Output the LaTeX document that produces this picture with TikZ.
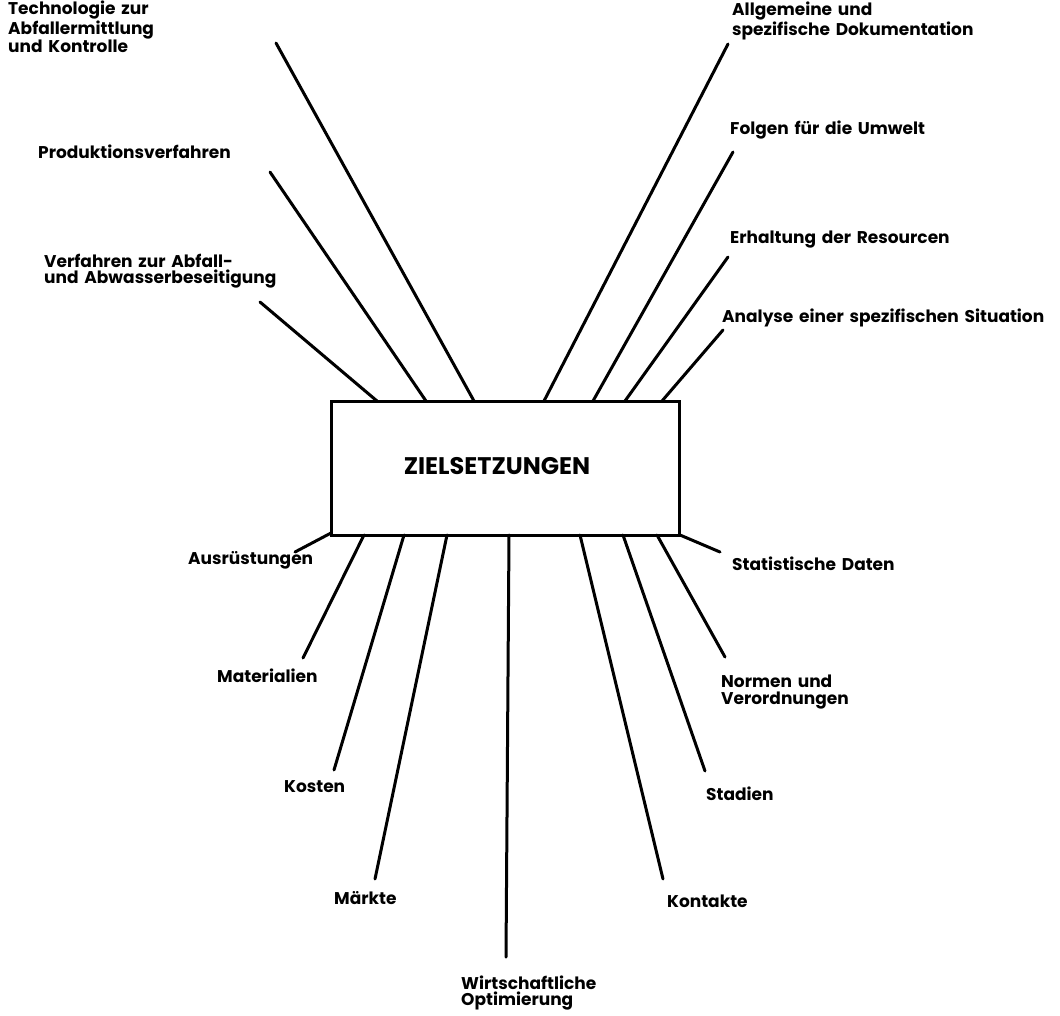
\documentclass[tikz,border=0pt]{standalone}
\usepackage{fontspec}
\setmainfont{Poppins}[WordSpace=1.6]
\begin{document}
\begin{tikzpicture}[x=1pt,y=-1pt,
  lbl/.style={anchor=west, inner sep=0pt, font=\bfseries\fontsize{17}{16.5}\selectfont, align=left},
  spoke/.style={line width=3pt, line cap=round}]
\useasboundingbox (0,0) rectangle (1060,1015);

% central box and its caption
\node[draw, line width=3pt, minimum width=348pt, minimum height=134pt, inner sep=0pt] (ziel) at (505.5,468) {};
\node[inner sep=0pt, font=\bfseries\fontsize{24}{26}\selectfont] (zieltxt) at (497,466) {ZIELSETZUNGEN};

% labels above the box
\node[lbl] (tech) at (8,27) {Technologie zur\\Abfallermittlung\\und Kontrolle};
\node[lbl] (prod) at (38,152) {Produktionsverfahren};
\node[lbl] (verf) at (44,271) {Verfahren zur Abfall-\\und Abwasserbeseitigung};
\node[lbl] (allg) at (732,21) {Allgemeine und\\spezifische Dokumentation};
\node[lbl] (folg) at (730,130) {Folgen für die Umwelt};
\node[lbl] (erh)  at (730,240) {Erhaltung der Resourcen};
\node[lbl] (ana)  at (722,318) {Analyse einer spezifischen Situation};

% labels below the box
\node[lbl] (ausr) at (188,560) {Ausrüstungen};
\node[lbl] (mat)  at (217,676) {Materialien};
\node[lbl] (kost) at (284,787) {Kosten};
\node[lbl] (mark) at (334,898) {Märkte};
\node[lbl] (wirt) at (461,993) {Wirtschaftliche\\Optimierung};
\node[lbl] (kont) at (667,901) {Kontakte};
\node[lbl] (stad) at (706,794) {Stadien};
\node[lbl] (norm) at (721,692) {Normen und\\Verordnungen};
\node[lbl] (stat) at (732,564) {Statistische Daten};

% spoke ends: one on the box edge, one beside its label
\coordinate (tech-b) at (474,401);  \coordinate (tech-e) at (276,43);
\coordinate (prod-b) at (426,401);  \coordinate (prod-e) at (270,172);
\coordinate (verf-b) at (377,401);  \coordinate (verf-e) at (260,302);
\coordinate (allg-b) at (544,401);  \coordinate (allg-e) at (728,44);
\coordinate (folg-b) at (593,401);  \coordinate (folg-e) at (733,152);
\coordinate (erh-b)  at (625,401);  \coordinate (erh-e)  at (728,257);
\coordinate (ana-b)  at (662,401);  \coordinate (ana-e)  at (723,330);
\coordinate (ausr-b) at (331,533);  \coordinate (ausr-e) at (295,552);
\coordinate (mat-b)  at (364,535);  \coordinate (mat-e)  at (303,658);
\coordinate (kost-b) at (404,535);  \coordinate (kost-e) at (334,770);
\coordinate (mark-b) at (447,535);  \coordinate (mark-e) at (375,879);
\coordinate (wirt-b) at (509,535);  \coordinate (wirt-e) at (506,957);
\coordinate (kont-b) at (580,535);  \coordinate (kont-e) at (663,879);
\coordinate (stad-b) at (623,535);  \coordinate (stad-e) at (705,771);
\coordinate (norm-b) at (657,535);  \coordinate (norm-e) at (725,657);
\coordinate (stat-b) at (680,535);  \coordinate (stat-e) at (720,552);

\foreach \n in {tech,prod,verf,allg,folg,erh,ana,ausr,mat,kost,mark,wirt,kont,stad,norm,stat}
  \draw[spoke] (\n-b) -- (\n-e);
\end{tikzpicture}
\end{document}
